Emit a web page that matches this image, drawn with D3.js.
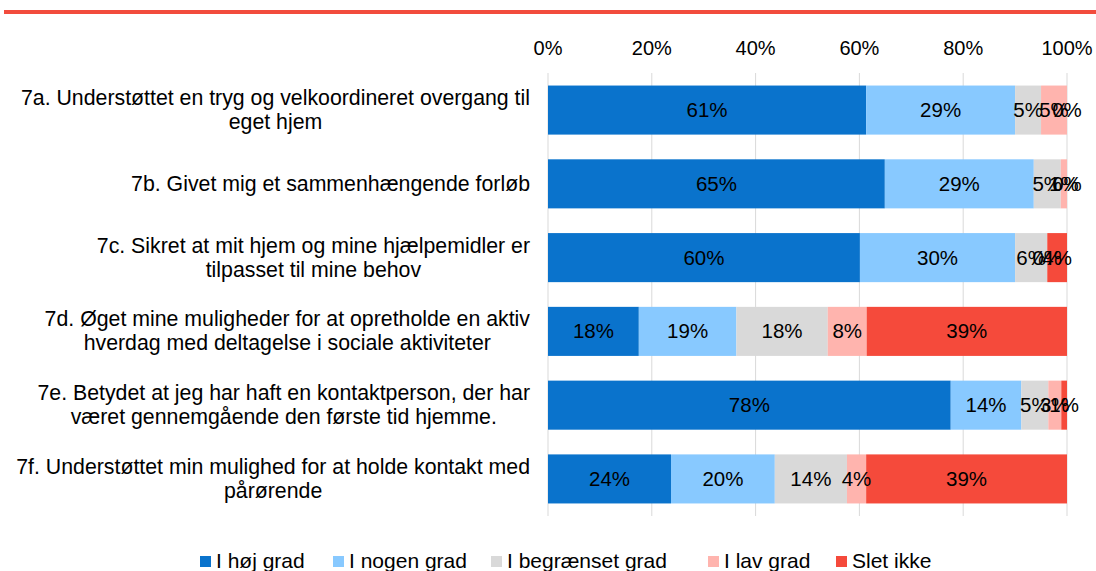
<!DOCTYPE html>
<html>
<head>
<meta charset="utf-8">
<script src="https://cdn.jsdelivr.net/npm/d3@7"></script>
<style>
  body { margin: 0; background: #fff; }
  svg text { font-family: "Liberation Sans", Arial, sans-serif; }
</style>
</head>
<body>
<div id="chart"></div>
<script>
// data (percent)
const categories = [
    ["7a. Understøttet en tryg og velkoordineret overgang til", "eget hjem"],
    ["7b. Givet mig et sammenhængende forløb"],
    ["7c. Sikret at mit hjem og mine hjælpemidler er", "tilpasset til mine behov"],
    ["7d. Øget mine muligheder for at opretholde en aktiv", "hverdag med deltagelse i sociale aktiviteter"],
    ["7e. Betydet at jeg har haft en kontaktperson, der har", "været gennemgående den første tid hjemme."],
    ["7f. Understøttet min mulighed for at holde kontakt med", "pårørende"]
];
const seriesNames = ["I høj grad", "I nogen grad", "I begrænset grad", "I lav grad", "Slet ikke"];
const hojGrad = [61.3, 64.9, 60.1, 17.5, 77.6, 23.7];
const nogenGrad = [28.7, 28.7, 29.9, 18.8, 13.6, 20.0];
const begraensetGrad = [5.0, 5.2, 6.2, 17.6, 5.2, 13.9];
const lavGrad = [5.0, 1.2, 0.0, 7.5, 2.5, 3.7];
const sletIkke = [0.0, 0.0, 3.8, 38.6, 1.1, 38.7];
const ticks = [0, 20, 40, 60, 80, 100];

const colors = ["#0a73cc", "#88c9ff", "#d9d9d9", "#ffb4ae", "#f54a3b"];

const width = 1096, height = 571;
const plot = { left: 548, right: 1067, top: 73, bottom: 516 };

const rows = categories.map((c, i) => ({
    id: "c" + i,
    label: c,
    [seriesNames[0]]: hojGrad[i],
    [seriesNames[1]]: nogenGrad[i],
    [seriesNames[2]]: begraensetGrad[i],
    [seriesNames[3]]: lavGrad[i],
    [seriesNames[4]]: sletIkke[i]
}));

const svg = d3.select("#chart").append("svg")
    .attr("width", width)
    .attr("height", height);

// red rule at the top
svg.append("rect")
    .attr("x", 4).attr("y", 10)
    .attr("width", width - 4).attr("height", 4)
    .attr("fill", "#f24c3d");

const x = d3.scaleLinear().domain([0, 100]).range([plot.left, plot.right]);
const y = d3.scaleBand().domain(rows.map(d => d.id)).range([plot.top, plot.bottom]).paddingInner(0.335).paddingOuter(0.17);
const color = d3.scaleOrdinal().domain(seriesNames).range(colors);

// gridlines
svg.append("g").selectAll("line")
    .data(ticks)
    .enter().append("line")
    .attr("x1", d => x(d)).attr("x2", d => x(d))
    .attr("y1", plot.top).attr("y2", plot.bottom)
    .attr("stroke", "#d9d9d9")
    .attr("stroke-width", 1);

// top axis labels
svg.append("g").selectAll("text")
    .data(ticks)
    .enter().append("text")
    .attr("x", d => x(d))
    .attr("y", 55)
    .attr("text-anchor", "middle")
    .style("font-size", "20px")
    .style("fill", "#000")
    .text(d => d + "%");

const stacked = d3.stack().keys(seriesNames)(rows);

const layers = svg.append("g").selectAll("g")
    .data(stacked)
    .enter().append("g")
    .attr("fill", d => color(d.key));

layers.selectAll("rect")
    .data(d => d)
    .enter().append("rect")
    .attr("x", d => x(d[0]))
    .attr("y", d => y(d.data.id))
    .attr("width", d => x(d[1]) - x(d[0]))
    .attr("height", y.bandwidth());

// value labels
const labels = svg.append("g");
stacked.forEach(layer => {
    labels.selectAll(null)
        .data(layer)
        .enter().append("text")
        .attr("x", d => (x(d[0]) + x(d[1])) / 2)
        .attr("y", d => y(d.data.id) + y.bandwidth() / 2 + 7)
        .attr("text-anchor", "middle")
        .style("font-size", "20.5px")
        .style("fill", "#000")
        .text(d => Math.round(d[1] - d[0]) + "%");
});

// category labels, lines centered, block right-aligned
const catG = svg.append("g");
rows.forEach(r => {
    const g = catG.append("g");
    const n = r.label.length;
    const cy = y(r.id) + y.bandwidth() / 2;
    const texts = g.selectAll("text")
        .data(r.label)
        .enter().append("text")
        .attr("y", (d, i) => cy + (i - (n - 1) / 2) * 24 + 7)
        .attr("text-anchor", "middle")
        .style("font-size", "21.3px")
        .style("fill", "#000")
        .text(d => d);
    const w = d3.max(texts.nodes(), t => t.getComputedTextLength());
    texts.attr("x", 530 - w / 2);
});

// legend
const legendX = [200, 333, 491, 708, 836];
const legend = svg.append("g").selectAll("g")
    .data(seriesNames)
    .enter().append("g")
    .attr("transform", (d, i) => `translate(${legendX[i]}, 0)`);

legend.append("rect")
    .attr("x", 0).attr("y", 556)
    .attr("width", 11).attr("height", 11)
    .attr("fill", d => color(d));

legend.append("text")
    .attr("x", 16)
    .attr("y", 568)
    .style("font-size", "21px")
    .style("fill", "#000")
    .text(d => d);
</script>
</body>
</html>
